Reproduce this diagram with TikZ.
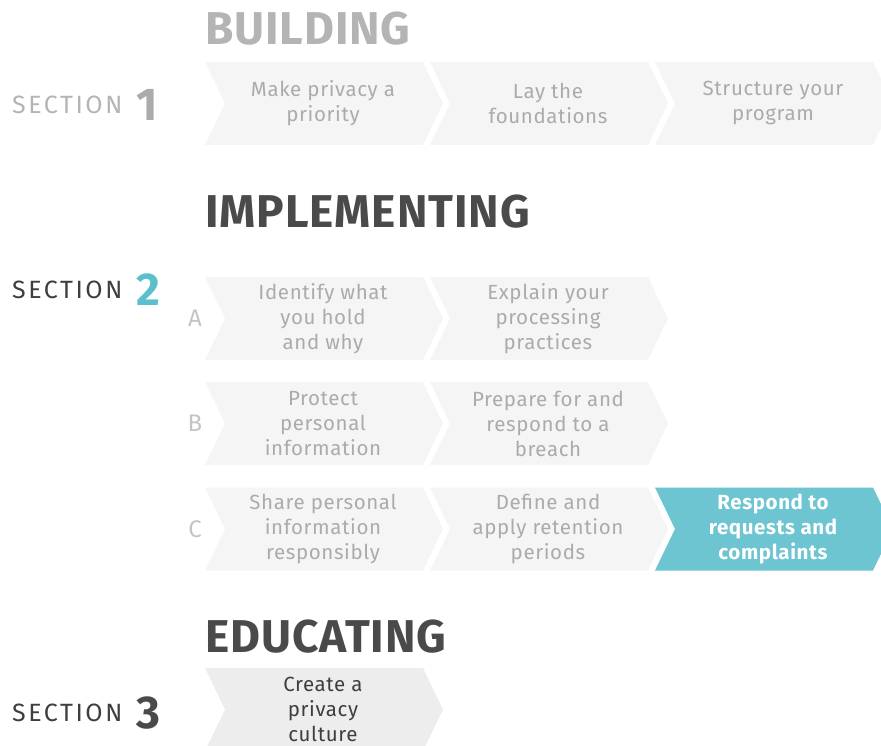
\documentclass[tikz,border=0pt]{standalone}
\usepackage{fontspec}
\setmainfont{Fira Sans}
\newfontfamily\secfont[LetterSpace=10]{Fira Sans}
\newfontfamily\headfont[LetterSpace=2]{Fira Sans}
\newfontfamily\stepfont[LetterSpace=3]{Fira Sans}
\usetikzlibrary{positioning}

\definecolor{chevgray}{HTML}{F5F5F5}
\definecolor{chevdark}{HTML}{EDEDED}
\definecolor{txtgray}{HTML}{ABABAB}
\definecolor{txtdark}{HTML}{3E3E3E}
\definecolor{headgray}{HTML}{B4B4B4}
\definecolor{headdark}{HTML}{4A4A4A}
\definecolor{teal}{HTML}{6CC5D0}
\definecolor{tealnum}{HTML}{5CC0CC}
\definecolor{rowletter}{HTML}{C4C4C4}

\tikzset{
    steptext/.style={align=center, inner sep=0pt, font=\stepfont\fontsize{20.5}{25}\selectfont},
    sechead/.style={anchor=west, inner sep=0pt, font=\headfont\fontsize{46}{46}\selectfont\bfseries},
    seclabel/.style={anchor=west, inner sep=0pt, font=\secfont\fontsize{25}{25}\selectfont},
    secnum/.style={right=14pt of #1, inner sep=0pt, font=\fontsize{46}{46}\selectfont\bfseries},
    rowlabel/.style={inner sep=0pt, text=rowletter, font=\fontsize{24}{24}\selectfont},
}

% fill, text colour, name, left x, centre y, text
\newcommand\chev[6]{%
    \fill[#1] (#4,#5-41.5) -- ++(218,0) -- ++(20,41.5) -- ++(-20,41.5)
        -- ++(-218,0) -- ++(20,-41.5) -- cycle;
    \node[steptext, text=#2] (#3) at (#4+118,#5) {#6};
}

\begin{document}
\begin{tikzpicture}[x=1pt, y=-1pt]
    \useasboundingbox (0,0) rectangle (881,746);
    \clip (0,0) rectangle (881,746);

    % building
    \node[sechead, text=headgray] (building) at (205,29) {BUILDING};
    \node[seclabel, text=headgray] (sec1) at (12,105) {SECTION};
    \node[secnum=sec1, text=txtgray] (num1) {1};
    \chev{chevgray}{txtgray}{priority}{205}{103.5}{Make privacy a\\priority};
    \chev{chevgray}{txtgray}{foundations}{430}{103.5}{Lay the\\foundations};
    \chev{chevgray}{txtgray}{program}{655}{103.5}{Structure your\\program};

    % implementing
    \node[sechead, text=headdark] (implementing) at (205,212) {IMPLEMENTING};
    \node[seclabel, text=txtdark] (sec2) at (12,290) {SECTION};
    \node[secnum=sec2, text=tealnum] (num2) {2};
    \node[rowlabel] (rowA) at (195,318.5) {A};
    \node[rowlabel] (rowB) at (195,423.5) {B};
    \node[rowlabel] (rowC) at (195,529) {C};
    \chev{chevgray}{txtgray}{identify}{205}{318.5}{Identify what\\you hold\\and why};
    \chev{chevgray}{txtgray}{explain}{430}{318.5}{Explain your\\processing\\practices};
    \chev{chevgray}{txtgray}{protect}{205}{423.5}{Protect\\personal\\information};
    \chev{chevgray}{txtgray}{breach}{430}{423.5}{Prepare for and\\respond to a\\breach};
    \chev{chevgray}{txtgray}{share}{205}{529}{Share personal\\information\\responsibly};
    \chev{chevgray}{txtgray}{retention}{430}{529}{Define and\\apply retention\\periods};
    \chev{teal}{white}{requests}{655}{529}{\bfseries Respond to\\\bfseries requests and\\\bfseries complaints};

    % educating
    \node[sechead, text=headdark] (educating) at (205,637) {EDUCATING};
    \node[seclabel, text=txtdark] (sec3) at (12,713) {SECTION};
    \node[secnum=sec3, text=headdark] (num3) {3};
    \chev{chevdark}{txtdark}{culture}{205}{709.5}{Create a\\privacy\\culture};
\end{tikzpicture}
\end{document}
